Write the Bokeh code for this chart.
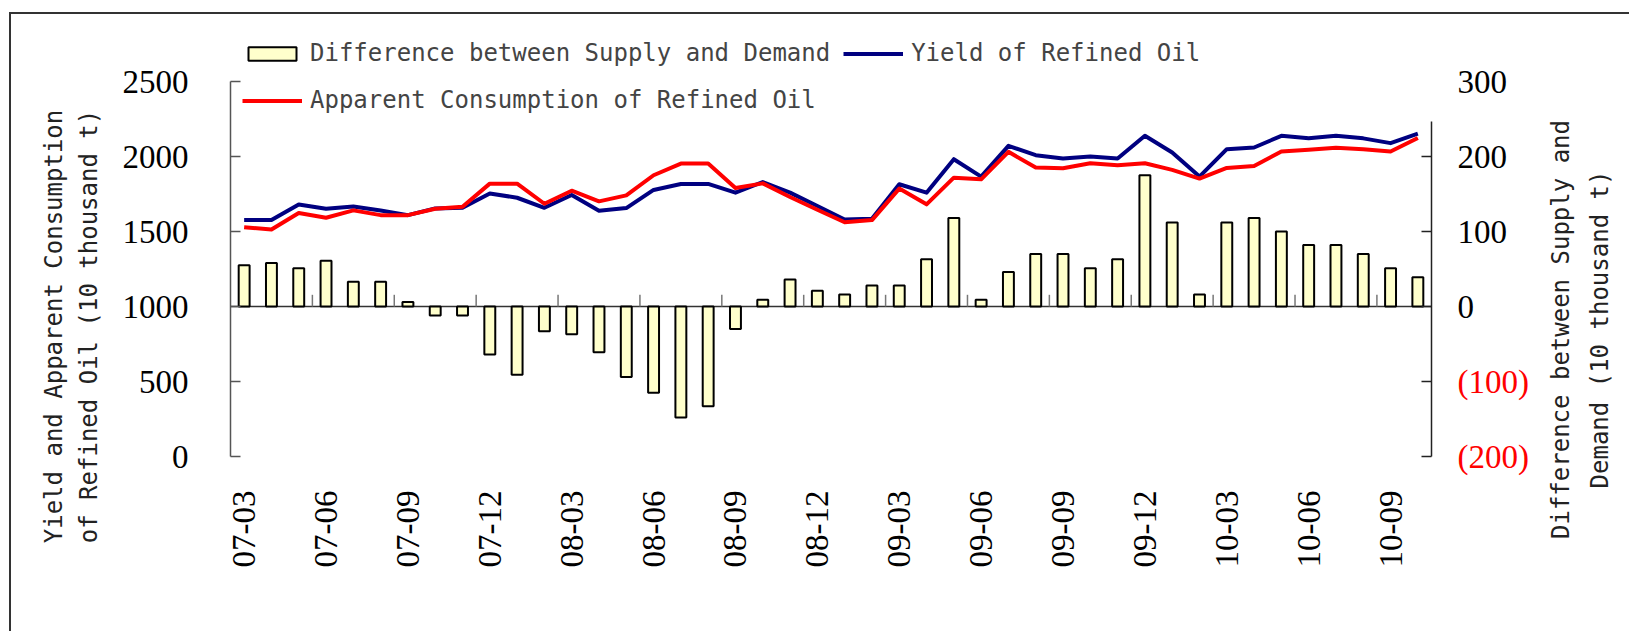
import numpy as np
from bokeh.plotting import figure
from bokeh.models import (Range1d, LinearAxis, FixedTicker, Legend,
                          LegendItem, CustomJSTickFormatter)
from bokeh.core.properties import value
from bokeh.embed import file_html
from bokeh.resources import INLINE

# ---------------- data ----------------
months = ["07-03", "07-04", "07-05", "07-06", "07-07", "07-08", "07-09", "07-10", "07-11", "07-12",
          "08-01", "08-02", "08-03", "08-04", "08-05", "08-06", "08-07", "08-08", "08-09", "08-10",
          "08-11", "08-12", "09-01", "09-02", "09-03", "09-04", "09-05", "09-06", "09-07", "09-08",
          "09-09", "09-10", "09-11", "09-12", "10-01", "10-02", "10-03", "10-04", "10-05", "10-06",
          "10-07", "10-08", "10-09", "10-10"]
diff = [55, 58, 51, 61, 33, 33, 6, -12, -12, -64, -91, -33, -37, -61, -94, -115, -148, -133, -30, 9,
        36, 21, 16, 28, 28, 63, 118, 9, 46, 70, 70, 51, 63, 175, 112, 16, 112, 118, 100, 82,
        82, 70, 51, 39]
yield_oil = [1576, 1576, 1680, 1652, 1667, 1640, 1609, 1654, 1658, 1754, 1725, 1658, 1743, 1638, 1656,
             1777, 1817, 1817, 1759, 1830, 1759, 1670, 1580, 1585, 1815, 1759, 1982, 1866, 2071, 2009,
             1987, 2000, 1987, 2138, 2027, 1866, 2049, 2060, 2138, 2121, 2138, 2121, 2089, 2152]
consumption = [1529, 1513, 1623, 1592, 1641, 1609, 1609, 1652, 1665, 1819, 1819, 1685, 1772, 1701, 1741,
               1875, 1953, 1953, 1790, 1821, 1730, 1645, 1562, 1576, 1786, 1681, 1859, 1848, 2031, 1926,
               1922, 1955, 1942, 1955, 1911, 1853, 1924, 1937, 2033, 2045, 2058, 2049, 2033, 2123]
left_ticks = [0, 500, 1000, 1500, 2000, 2500]
right_pos_ticks = [0, 100, 200, 300]
right_neg_ticks = [-200, -100]
left_title = "Yield and Apparent Consumption\nof Refined Oil (10 thousand t)"
right_title = ["Difference between Supply and", "Demand (10 thousand t)"]

idx = list(range(len(months)))
n = len(months)
label_every = 3

# ---------------- layout constants (page px) ----------------
OX, OY = 11, 14                     # canvas origin on the page (margin + border)
W, H = 1620, 619
PAGE_LEFT, PAGE_AXIS_RIGHT, PAGE_FRAME_RIGHT = 230, 1431, 1626
PAGE_TOP, PAGE_BOTTOM, PAGE_ZERO = 24, 628, 456
LEFT_PX_PER_UNIT = 0.15
CAT_PX = (PAGE_AXIS_RIGHT - PAGE_LEFT) / n

def page_x(px):
    return -0.5 + (px - PAGE_LEFT) / CAT_PX

def page_y(py):
    return (PAGE_ZERO - py) / LEFT_PX_PER_UNIT

FL, FR, FT, FB = PAGE_LEFT - OX, PAGE_FRAME_RIGHT - OX, PAGE_TOP - OY, PAGE_BOTTOM - OY
y_start, y_end = page_y(PAGE_BOTTOM), page_y(PAGE_TOP)
right_ratio = 5.0  # left units per right unit
right_zero = 1000.0

p = figure(width=W, height=H, output_backend="svg", toolbar_location=None,
           x_range=Range1d(-0.5, page_x(PAGE_FRAME_RIGHT)), y_range=Range1d(y_start, y_end),
           min_border_left=FL, min_border_right=W - FR, min_border_top=FT,
           min_border_bottom=H - FB, background_fill_color="white",
           border_fill_color="white", outline_line_color=None)
p.styles = {"margin-left": "9px", "margin-top": "12px",
            "border-top": "2px solid #333333", "border-left": "2px solid #333333"}
p.xgrid.visible = False
p.ygrid.visible = False
p.xaxis.visible = False
p.extra_y_ranges = {"diff": Range1d((y_start - right_zero) / right_ratio,
                                    (y_end - right_zero) / right_ratio)}

TICK_FONT = "Liberation Serif"
TEXT_FONT = "DejaVu Sans Mono"

# left axis
la = p.yaxis[0]
la.ticker = FixedTicker(ticks=left_ticks)
la.bounds = (left_ticks[0], left_ticks[-1])
la.major_tick_in = 10
la.major_tick_out = 0
la.minor_tick_line_color = None
la.major_label_standoff = 42
la.major_label_text_font = TICK_FONT
la.major_label_text_font_size = "33px"
la.major_label_text_color = "black"
la.axis_line_color = "#555555"
la.axis_line_width = 1.5
la.major_tick_line_color = "#555555"
la.major_tick_line_width = 1.5
la.axis_label = left_title
la.axis_label_text_font = TEXT_FONT
la.axis_label_text_font_size = "24px"
la.axis_label_text_font_style = "normal"
la.axis_label_text_color = "#222222"
la.axis_label_text_line_height = 1.23
la.axis_label_standoff = 17

right_loc = n - 0.5

# right axis 1: line and ticks only
ra = LinearAxis(y_range_name="diff", ticker=FixedTicker(ticks=right_neg_ticks + right_pos_ticks[:-1]),
                bounds=(right_neg_ticks[0], 247), fixed_location=right_loc)
ra.formatter = CustomJSTickFormatter(code="return '';")
ra.major_tick_in = 10
ra.major_tick_out = 0
ra.minor_tick_line_color = None
ra.major_label_standoff = 0
ra.axis_line_color = "#222222"
ra.axis_line_width = 1.5
ra.major_tick_line_color = "#222222"
ra.major_tick_line_width = 1.5
p.add_layout(ra, "right")

# right axis 2: black labels
rb = LinearAxis(y_range_name="diff", ticker=FixedTicker(ticks=right_pos_ticks), fixed_location=right_loc)
rb.axis_line_color = None
rb.major_tick_line_color = None
rb.minor_tick_line_color = None
rb.major_tick_in = 0
rb.major_tick_out = 0
rb.major_label_standoff = 26
rb.major_label_text_font = TICK_FONT
rb.major_label_text_font_size = "33px"
rb.major_label_text_color = "black"
p.add_layout(rb, "right")

# right axis 3: red negative labels in parentheses
rc = LinearAxis(y_range_name="diff", ticker=FixedTicker(ticks=right_neg_ticks), fixed_location=right_loc)
rc.formatter = CustomJSTickFormatter(code="return '(' + (-tick).toFixed(0) + ')';")
rc.axis_line_color = None
rc.major_tick_line_color = None
rc.minor_tick_line_color = None
rc.major_tick_in = 0
rc.major_tick_out = 0
rc.major_label_standoff = 26
rc.major_label_text_font = TICK_FONT
rc.major_label_text_font_size = "33px"
rc.major_label_text_color = "#FF0000"
p.add_layout(rc, "right")

# right axis title (two lines, read bottom to top)
p.text(x=[page_x(1560), page_x(1599)], y=[page_y(329)] * 2, text=right_title, angle=np.pi / 2,
       text_align="center", text_baseline="middle", text_font=value(TEXT_FONT),
       text_font_size="24px", text_color="#222222")

# x category labels, read bottom to top, below the plot
p.text(x=idx[::label_every], y=[page_y(490)] * len(idx[::label_every]),
       text=months[::label_every], angle=np.pi / 2, text_align="right", text_baseline="middle",
       text_font=value(TICK_FONT), text_font_size="33px", text_color="black")

# zero line of the difference axis and small category ticks
p.segment(x0=[-0.5], y0=[right_zero], x1=[right_loc], y1=[right_zero],
          line_color="#333333", line_width=1.5)
sep = [i - 0.5 for i in idx[label_every::label_every]]
p.segment(x0=sep, y0=[right_zero] * len(sep), x1=sep, y1=[right_zero + 78] * len(sep),
          line_color="#777777", line_width=1.5)

# bars and lines
bars = p.vbar(x=idx, top=diff, bottom=0, width=0.4, y_range_name="diff",
              fill_color="#FFFFCC", line_color="black", line_width=2)
l_yield = p.line(idx, yield_oil, line_color="#000080", line_width=4, line_join="round")
l_cons = p.line(idx, consumption, line_color="#FF0000", line_width=4, line_join="round")

legend = Legend(items=[LegendItem(label="Difference between Supply and Demand", renderers=[bars]),
                       LegendItem(label="Yield of Refined Oil", renderers=[l_yield]),
                       LegendItem(label="Apparent Consumption of Refined Oil", renderers=[l_cons])],
                location="top_left", orientation="horizontal", ncols=2,
                margin=0, padding=12, spacing=13, glyph_width=60, glyph_height=17,
                label_height=34, label_standoff=8, label_text_font=TEXT_FONT,
                label_text_font_size="24px", background_fill_alpha=0, border_line_alpha=0)
p.add_layout(legend)

open("out.html", "w").write(file_html(p, INLINE))
